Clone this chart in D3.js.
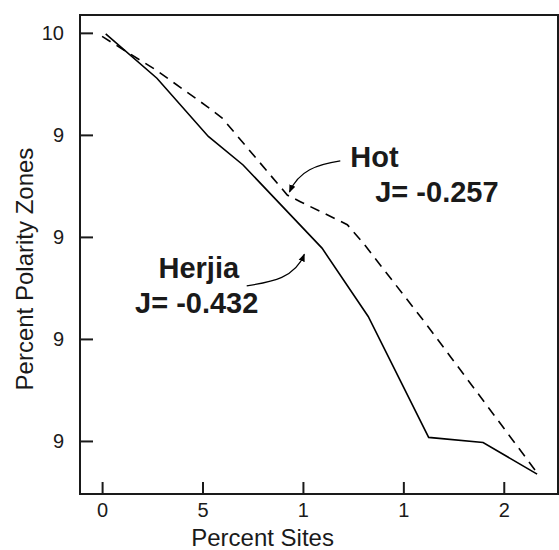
<!DOCTYPE html>
<html>
<head>
<meta charset="utf-8">
<script src="https://cdn.jsdelivr.net/npm/d3@7"></script>
<style>
  html, body { margin: 0; padding: 0; background: #fff; }
  svg { display: block; font-family: "Liberation Sans", Arial, sans-serif; }
</style>
</head>
<body>
<svg id="chart"></svg>
<script>
const width = 559;
const height = 550;
const margin = { top: 15, right: 1, bottom: 56, left: 80 };

// tick values and their printed labels
const xTicks = [0, 5, 10, 15, 20];
const xTickLabels = ["0", "5", "1", "1", "2"];
const yTicks = [10, 9.8, 9.6, 9.4, 9.2];
const yTickLabels = ["10", "9", "9", "9", "9"];

// Herjia (solid)
const herjiaX = [0.18, 2.73, 5.29, 7.02, 10.95, 13.25, 16.26, 18.97, 21.66];
const herjiaY = [9.998, 9.911, 9.797, 9.741, 9.578, 9.444, 9.207, 9.197, 9.135];

// Hot (dashed)
const hotX = [0, 2.69, 5.18, 5.98, 9.22, 9.87, 12.21, 13.0, 16.1, 21.67];
const hotY = [9.993, 9.927, 9.857, 9.833, 9.682, 9.669, 9.624, 9.588, 9.431, 9.137];

const svg = d3.select("#chart")
  .attr("width", width)
  .attr("height", height);

const x = d3.scaleLinear()
  .domain([-1.1, 22.7])
  .range([margin.left, width - margin.right]);

const y = d3.scaleLinear()
  .domain([9.096, 10.035])
  .range([height - margin.bottom, margin.top]);

const ink = "#1a1a1a";

// frame
svg.append("rect")
  .attr("x", x.range()[0])
  .attr("y", y.range()[1])
  .attr("width", x.range()[1] - x.range()[0])
  .attr("height", y.range()[0] - y.range()[1])
  .attr("fill", "none")
  .attr("stroke", ink)
  .attr("stroke-width", 2);

// axes with inward ticks
const xAxis = svg.append("g")
  .attr("transform", `translate(0,${y.range()[0]})`)
  .call(d3.axisBottom(x)
    .tickValues(xTicks)
    .tickSize(-12)
    .tickPadding(9)
    .tickFormat((d, i) => xTickLabels[i]));

const yAxis = svg.append("g")
  .attr("transform", `translate(${x.range()[0]},0)`)
  .call(d3.axisLeft(y)
    .tickValues(yTicks)
    .tickSize(-13)
    .tickPadding(16)
    .tickFormat((d, i) => yTickLabels[i]));

[xAxis, yAxis].forEach(g => {
  g.select(".domain").remove();
  g.selectAll(".tick line").attr("stroke", ink).attr("stroke-width", 2);
  g.selectAll(".tick text")
    .attr("fill", ink)
    .style("font-size", "20px")
    .style("font-family", "'Liberation Sans', Arial, sans-serif");
});

// axis titles
svg.append("text")
  .attr("x", x(7.99))
  .attr("y", 546)
  .attr("text-anchor", "middle")
  .attr("fill", ink)
  .style("font-size", "24px")
  .text("Percent Sites");

svg.append("text")
  .attr("transform", `translate(33,${y(9.537)}) rotate(-90)`)
  .attr("text-anchor", "middle")
  .attr("fill", ink)
  .style("font-size", "24px")
  .text("Percent Polarity Zones");

// series
const line = d3.line()
  .x(d => x(d[0]))
  .y(d => y(d[1]));

svg.append("path")
  .datum(d3.zip(hotX, hotY))
  .attr("fill", "none")
  .attr("stroke", "#000")
  .attr("stroke-width", 1.6)
  .attr("stroke-dasharray", "10,7")
  .attr("d", line);

svg.append("path")
  .datum(d3.zip(herjiaX, herjiaY))
  .attr("fill", "none")
  .attr("stroke", "#000")
  .attr("stroke-width", 1.6)
  .attr("d", line);

// annotations (data units)
svg.append("defs").append("marker")
  .attr("id", "arrow")
  .attr("viewBox", "0 0 10 10")
  .attr("refX", 9)
  .attr("refY", 5)
  .attr("markerWidth", 8)
  .attr("markerHeight", 8)
  .attr("markerUnits", "userSpaceOnUse")
  .attr("orient", "auto")
  .append("path")
  .attr("d", "M0,1 L10,5 L0,9 z")
  .attr("fill", "#000");

const labels = [
  { text: "Hot", x: 12.36, y: 9.737 },
  { text: "J= -0.257", x: 13.6, y: 9.669 },
  { text: "Herjia", x: 2.81, y: 9.519 },
  { text: "J= -0.432", x: 1.64, y: 9.451 }
];

svg.selectAll(".note")
  .data(labels)
  .enter()
  .append("text")
  .attr("class", "note")
  .attr("x", d => x(d.x))
  .attr("y", d => y(d.y))
  .attr("fill", ink)
  .style("font-size", "29px")
  .style("font-weight", "bold")
  .text(d => d.text);

// arrows: start, two control points, tip
const arrows = [
  [[11.86, 9.749], [10.7, 9.742], [9.8, 9.73], [9.33, 9.688]],
  [[7.2, 9.504], [8.5, 9.512], [9.6, 9.52], [10.07, 9.566]]
];

arrows.forEach(a => {
  const p = a.map(d => [x(d[0]), y(d[1])]);
  svg.append("path")
    .attr("d", `M${p[0]} C${p[1]} ${p[2]} ${p[3]}`)
    .attr("fill", "none")
    .attr("stroke", "#000")
    .attr("stroke-width", 1.2)
    .attr("marker-end", "url(#arrow)");
});
</script>
</body>
</html>
